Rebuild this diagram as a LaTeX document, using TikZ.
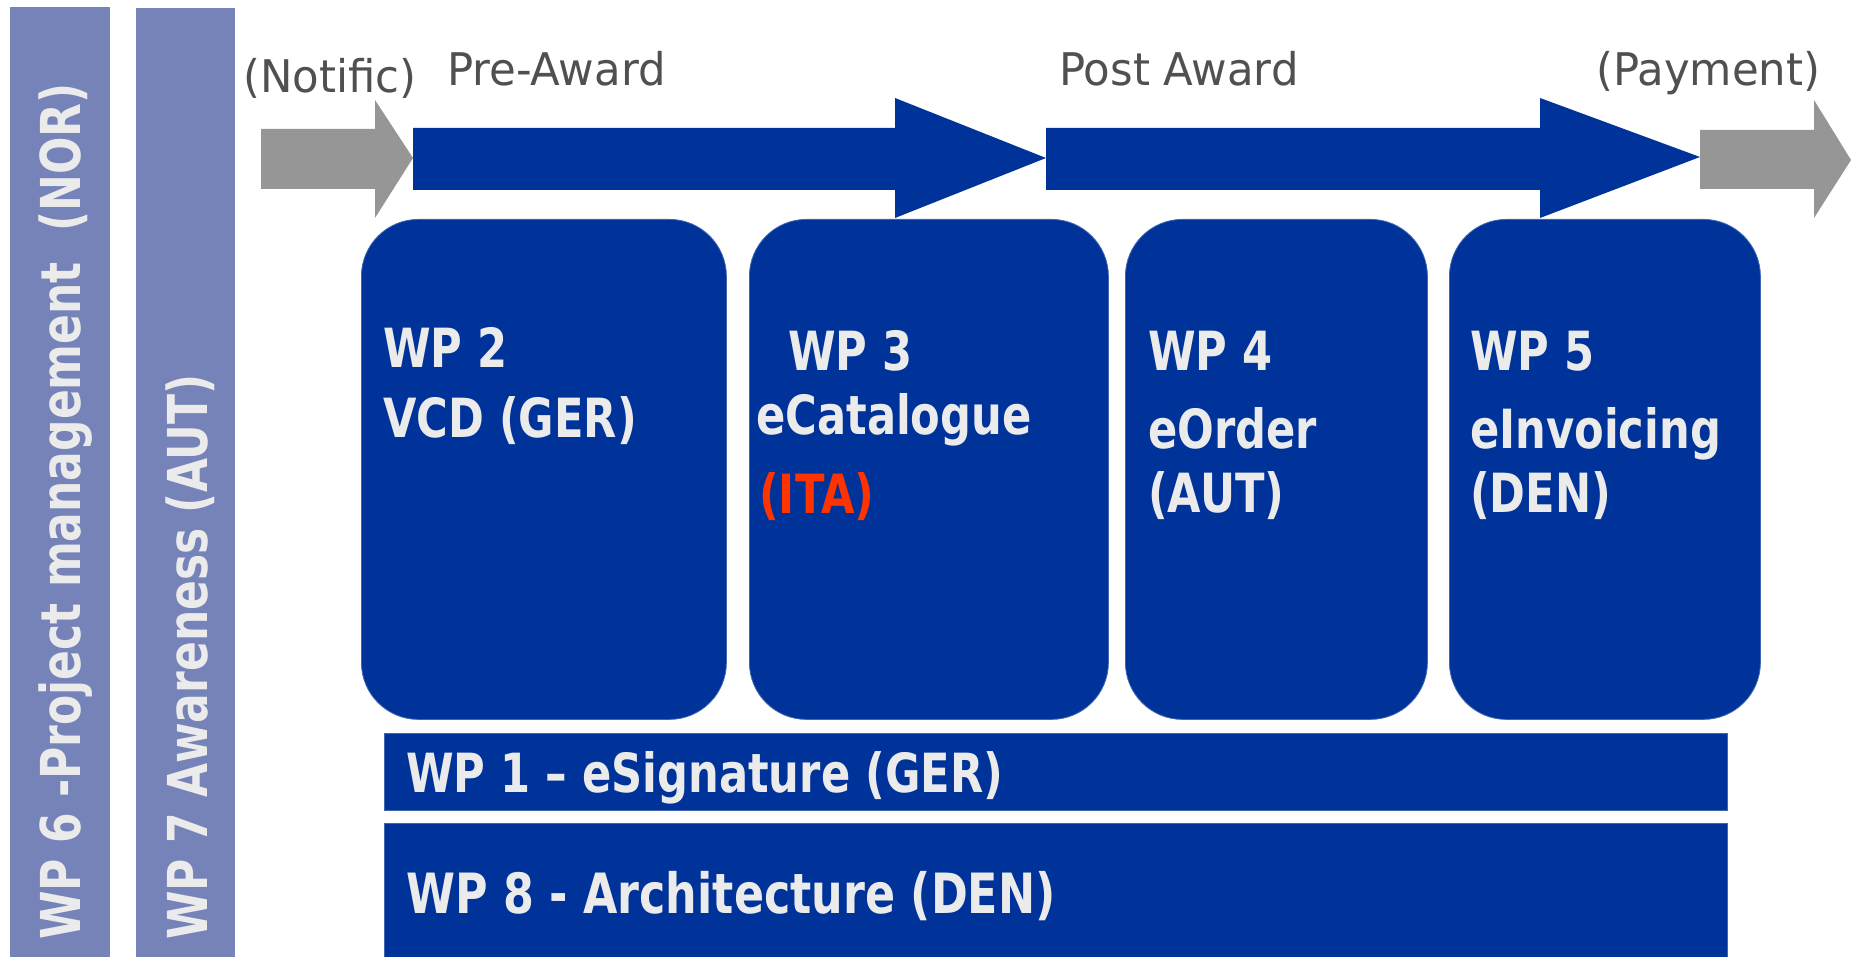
\documentclass[tikz,border=0pt]{standalone}
\usepackage{fontspec}
\newfontfamily\wpfont[FakeStretch=0.80]{DejaVu Sans}
\newfontfamily\grayfont[FakeStretch=0.965]{DejaVu Sans}
\definecolor{wpblue}{HTML}{003399}
\definecolor{arrgray}{HTML}{969696}
\definecolor{barpurple}{HTML}{7683B9}
\definecolor{txtwhite}{HTML}{EBEBEB}
\definecolor{txtgray}{HTML}{505050}
\definecolor{itared}{HTML}{FF3300}
\tikzset{
  wpbox/.style={fill=wpblue, draw=wpblue!75!white, line width=0.8pt, rounded corners=57pt, inner sep=0pt, anchor=north west},
  wpbar/.style={fill=wpblue, draw=wpblue!75!white, line width=0.8pt, inner sep=0pt, anchor=north west},
  sidebar/.style={fill=barpurple, inner sep=0pt, anchor=north west},
  wptext/.style={text=txtwhite, font=\wpfont\bfseries\fontsize{54}{60}\selectfont, inner sep=0pt, anchor=base west},
  vtext/.style={text=txtwhite, font=\wpfont\bfseries\fontsize{55}{60}\selectfont, inner sep=0pt, anchor=base west, rotate=90},
  phasetext/.style={text=txtgray, font=\grayfont\fontsize{45}{50}\selectfont, inner sep=0pt, anchor=base west},
  bluearrow/.style={fill=wpblue},
  grayarrow/.style={fill=arrgray}
}
\begin{document}
\begin{tikzpicture}[x=1pt,y=-1pt]
\useasboundingbox (0,0) rectangle (1853,957);
\fill[white] (0,0) rectangle (1853,957);

% side bars
\node[sidebar, minimum width=100pt, minimum height=950pt] (wp6bar) at (10,7) {};
\node[sidebar, minimum width=99pt, minimum height=949pt] (wp7bar) at (136,8) {};
\node[vtext] (wp6text) at (80,940) {WP 6 -Project management~~(NOR)};
\node[vtext] (wp7text) at (207,940) {WP 7 Awareness (AUT)};

% process arrows
\fill[grayarrow] (261,129) -- (375,129) -- (375,100) -- (413,158) -- (375,218) -- (375,189) -- (261,189) -- cycle;
\fill[bluearrow] (413,128) -- (895,128) -- (895,98) -- (1046,158) -- (895,218) -- (895,190) -- (413,190) -- cycle;
\fill[bluearrow] (1046,128) -- (1540,128) -- (1540,98) -- (1700,157) -- (1540,218) -- (1540,190) -- (1046,190) -- cycle;
\fill[grayarrow] (1700,130) -- (1814,130) -- (1814,100) -- (1851,160) -- (1814,218) -- (1814,189) -- (1700,189) -- cycle;

% phase labels
\node[phasetext] (notific) at (243,93) {(Notific)};
\node[phasetext] (preaward) at (447,86) {Pre-Award};
\node[phasetext] (postaward) at (1059,86) {Post Award};
\node[phasetext] (payment) at (1596,86) {(Payment)};

% work package boxes
\node[wpbox, minimum width=365pt, minimum height=500pt] (wp2) at (361,219) {};
\node[wpbox, minimum width=359pt, minimum height=500pt] (wp3) at (749,219) {};
\node[wpbox, minimum width=302pt, minimum height=500pt] (wp4) at (1125,219) {};
\node[wpbox, minimum width=311pt, minimum height=500pt] (wp5) at (1449,219) {};

\node[wptext] (wp2a) at (383,368) {WP 2};
\node[wptext] (wp2b) at (383,438) {VCD (GER)};

\node[wptext] (wp3a) at (788,371) {WP 3};
\node[wptext] (wp3b) at (756,435) {eCatalogue};
\node[wptext, text=itared] (wp3c) at (759,513) {(ITA)};

\node[wptext] (wp4a) at (1148,371) {WP 4};
\node[wptext] (wp4b) at (1148,448) {eOrder};
\node[wptext] (wp4c) at (1148,512) {(AUT)};

\node[wptext] (wp5a) at (1470,371) {WP 5};
\node[wptext] (wp5b) at (1470,448) {eInvoicing};
\node[wptext] (wp5c) at (1470,512) {(DEN)};

% horizontal bars
\node[wpbar, minimum width=1343pt, minimum height=77pt] (wp1) at (384,733) {};
\node[wpbar, minimum width=1343pt, minimum height=140pt] (wp8) at (384,823) {};
\node[wptext, font=\wpfont\bfseries\fontsize{54}{60}\selectfont] (wp1text) at (406,792) {WP 1 – eSignature (GER)};
\node[wptext, font=\wpfont\bfseries\fontsize{55.5}{60}\selectfont] (wp8text) at (406,913) {WP 8 - Architecture (DEN)};
\end{tikzpicture}
\end{document}
